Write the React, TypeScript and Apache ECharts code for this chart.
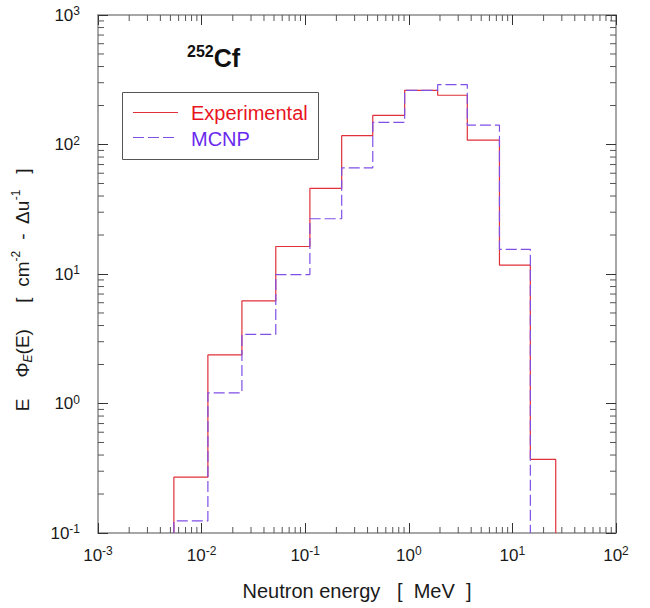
import React, { useEffect, useRef } from "react";
import * as echarts from "echarts";

// Bin edges (MeV) of the histogram
const binEdges = [0.0054, 0.0115, 0.0245, 0.052, 0.111, 0.225, 0.449, 0.912, 1.9, 3.67, 7.5, 14.9, 26.2];
// Bin heights
const experimental = [0.27, 2.37, 6.2, 16.3, 45.9, 117, 168, 262, 240, 108, 11.7, 0.37];
const mcnp = [0.124, 1.21, 3.42, 9.9, 26.7, 66, 148, 262, 290, 141, 15.5];

const seriesNames = ["Experimental", "MCNP"];

const xMin = 0.001;
const xMax = 100;
const yMin = 0.1;
const yMax = 1000;
const minorMultipliers = [2, 3, 4, 5, 6, 7, 8, 9];
const xDecades = [0.001, 0.01, 0.1, 1, 10];
const yDecades = [0.1, 1, 10, 100];

const FONT = "Arial, 'Liberation Sans', Helvetica, sans-serif";
const RED = "#e0303a";
const PURPLE = "#7f4fe6";
const RED_TEXT = "#e8141e";
const PURPLE_TEXT = "#6a28ee";

function histogramPoints(edges: number[], values: number[], floor: number) {
  const pts: number[][] = [[edges[0], floor]];
  values.forEach((v, i) => {
    pts.push([edges[i], v]);
    pts.push([edges[i + 1], v]);
  });
  pts.push([edges[values.length], floor]);
  return pts;
}

function powLabel(v: number) {
  const e = Math.round(Math.log10(v));
  return `{b|10}{s|${e}}`;
}

const labelRich = {
  b: { fontSize: 17, fontFamily: FONT, color: "#1a1a1a", lineHeight: 20 },
  s: { fontSize: 12, fontFamily: FONT, color: "#1a1a1a", verticalAlign: "top", lineHeight: 12 },
};

export default function App() {
  const ref = useRef<HTMLDivElement>(null);
  useEffect(() => {
    if (!ref.current) return;
    const chart = echarts.init(ref.current, undefined, { renderer: "svg" });

    const xMinor: number[][] = [];
    xDecades.forEach((d) => minorMultipliers.forEach((m) => xMinor.push([d * m, 1])));
    const yMinor: number[][] = [];
    yDecades.forEach((d) => minorMultipliers.forEach((m) => yMinor.push([1, d * m])));

    const axisLine = { lineStyle: { color: "#8a8a8a", width: 1.5 } };
    const majorTick = { show: true, inside: true, length: 10, lineStyle: { color: "#333", width: 1 } };

    chart.setOption({
      animation: false,
      backgroundColor: "#ffffff",
      grid: { left: 98, top: 15, right: 34, bottom: 75 },
      xAxis: [
        {
          type: "log",
          logBase: 10,
          min: xMin,
          max: xMax,
          position: "bottom",
          axisLine,
          axisTick: majorTick,
          splitLine: { show: false },
          axisLabel: { formatter: powLabel, rich: labelRich, margin: 12 },
          name: "Neutron energy   [  MeV  ]",
          nameLocation: "middle",
          nameGap: 48,
          nameTextStyle: { fontSize: 20, fontFamily: FONT, color: "#1a1a1a" },
        },
        {
          type: "log",
          logBase: 10,
          min: xMin,
          max: xMax,
          position: "top",
          axisLine,
          axisTick: majorTick,
          splitLine: { show: false },
          axisLabel: { show: false },
        },
      ],
      yAxis: [
        {
          type: "log",
          logBase: 10,
          min: yMin,
          max: yMax,
          position: "left",
          axisLine,
          axisTick: majorTick,
          splitLine: { show: false },
          axisLabel: { formatter: powLabel, rich: labelRich, margin: 18 },
          name: "{t|E    Φ}{sub|E}{t|(E)     [  cm}{sup|-2}{t|  -  Δu}{sup|-1}{t|   ]      }",
          nameLocation: "middle",
          nameRotate: 90,
          nameGap: 64,
          nameTextStyle: {
            rich: {
              t: { fontSize: 19, fontFamily: FONT, color: "#1a1a1a", lineHeight: 24 },
              sub: { fontSize: 12, fontFamily: FONT, fontStyle: "italic", color: "#1a1a1a", verticalAlign: "bottom", lineHeight: 12 },
              sup: { fontSize: 12, fontFamily: FONT, color: "#1a1a1a", verticalAlign: "top", lineHeight: 12 },
            },
          },
        },
        {
          type: "log",
          logBase: 10,
          min: yMin,
          max: yMax,
          position: "right",
          axisLine,
          axisTick: majorTick,
          splitLine: { show: false },
          axisLabel: { show: false },
        },
      ],
      graphic: [
        {
          type: "text",
          left: 187,
          top: 43,
          style: {
            text: "{s|252}{b|Cf}",
            rich: {
              s: { fontSize: 16, fontWeight: "bold", fontFamily: FONT, fill: "#111", verticalAlign: "top", lineHeight: 16 },
              b: { fontSize: 25, fontWeight: "bold", fontFamily: FONT, fill: "#111", lineHeight: 29 },
            },
          },
        },
        {
          type: "rect",
          shape: { x: 122.5, y: 92.5, width: 196, height: 67 },
          style: { fill: "#fff", stroke: "#555", lineWidth: 1 },
          z: 10,
        },
        {
          type: "line",
          shape: { x1: 133, y1: 112.5, x2: 178, y2: 112.5 },
          style: { stroke: RED, lineWidth: 1.2 },
          z: 11,
        },
        {
          type: "line",
          shape: { x1: 133, y1: 137.5, x2: 178, y2: 137.5 },
          style: { stroke: PURPLE, lineWidth: 1.2, lineDash: [11, 4] },
          z: 11,
        },
        {
          type: "text",
          x: 191,
          y: 113,
          style: { text: seriesNames[0], fontSize: 20, fontFamily: FONT, fill: RED_TEXT, verticalAlign: "middle" },
          z: 11,
        },
        {
          type: "text",
          x: 191,
          y: 139,
          style: { text: seriesNames[1], fontSize: 20, fontFamily: FONT, fill: PURPLE_TEXT, verticalAlign: "middle" },
          z: 11,
        },
      ],
      series: [
        {
          name: seriesNames[0],
          type: "line",
          symbol: "none",
          data: histogramPoints(binEdges, experimental, yMin),
          lineStyle: { color: RED, width: 1.2 },
          itemStyle: { color: RED },
          z: 3,
        },
        {
          name: seriesNames[1],
          type: "line",
          symbol: "none",
          data: histogramPoints(binEdges, mcnp, yMin),
          lineStyle: { color: PURPLE, width: 1.2, type: [11, 4] },
          itemStyle: { color: PURPLE },
          z: 4,
        },
        {
          type: "custom",
          silent: true,
          clip: false,
          data: xMinor,
          encode: { x: 0, y: 1 },
          renderItem: (params: any, api: any) => {
            const v = api.value(0);
            const b = api.coord([v, yMin]);
            const t = api.coord([v, yMax]);
            const st = { stroke: "#555", lineWidth: 1 };
            return {
              type: "group",
              children: [
                { type: "line", shape: { x1: b[0], y1: b[1], x2: b[0], y2: b[1] - 6 }, style: st },
                { type: "line", shape: { x1: t[0], y1: t[1], x2: t[0], y2: t[1] + 6 }, style: st },
              ],
            };
          },
        },
        {
          type: "custom",
          silent: true,
          clip: false,
          data: yMinor,
          encode: { x: 0, y: 1 },
          renderItem: (params: any, api: any) => {
            const v = api.value(1);
            const l = api.coord([xMin, v]);
            const r = api.coord([xMax, v]);
            const st = { stroke: "#555", lineWidth: 1 };
            return {
              type: "group",
              children: [
                { type: "line", shape: { x1: l[0], y1: l[1], x2: l[0] + 6, y2: l[1] }, style: st },
                { type: "line", shape: { x1: r[0], y1: r[1], x2: r[0] - 6, y2: r[1] }, style: st },
              ],
            };
          },
        },
      ],
    });
    return () => chart.dispose();
  }, []);
  return <div ref={ref} style={{ width: 650, height: 608, position: "absolute", left: 0, top: 0 }} />;
}
